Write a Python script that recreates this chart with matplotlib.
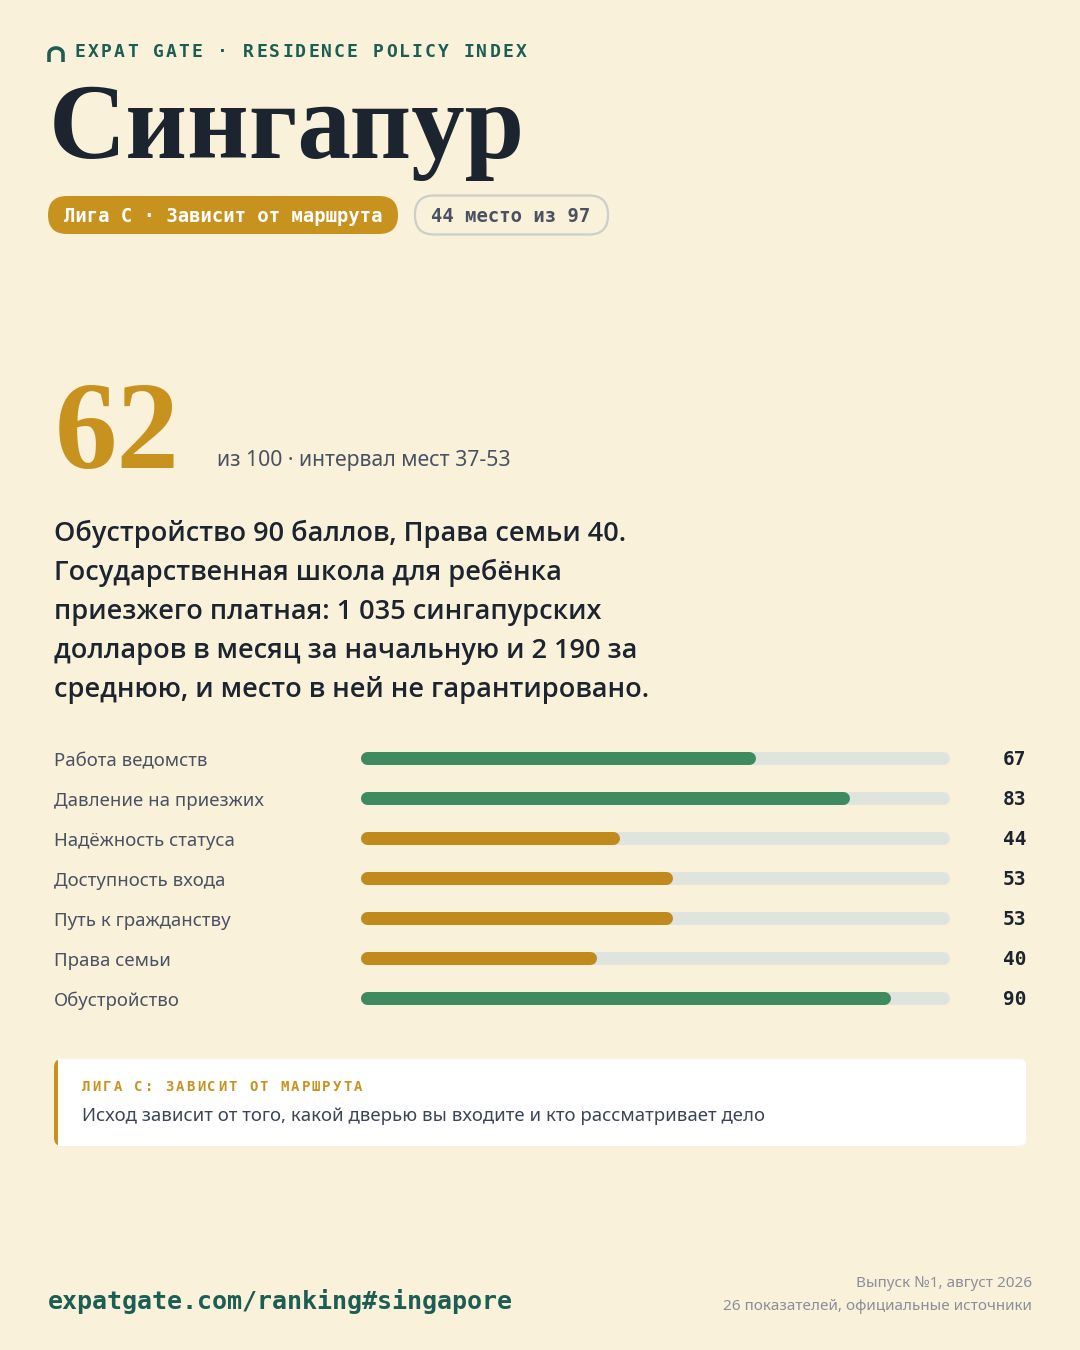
import matplotlib
matplotlib.use("Agg")
from matplotlib import pyplot as plt
from matplotlib.patches import FancyBboxPatch, Rectangle
import numpy as np

# --- data ---
country = "Сингапур"
brand = "EXPAT GATE · RESIDENCE POLICY INDEX"
league_text = "Лига C · Зависит от маршрута"
rank_text = "44 место из 97"
score = 62
score_note = "из 100 · интервал мест 37-53"
summary_lines = [
    "Обустройство 90 баллов, Права семьи 40.",
    "Государственная школа для ребёнка",
    "приезжего платная: 1 035 сингапурских",
    "долларов в месяц за начальную и 2 190 за",
    "среднюю, и место в ней не гарантировано.",
]
categories = ["Работа ведомств", "Давление на приезжих", "Надёжность статуса",
              "Доступность входа", "Путь к гражданству", "Права семьи", "Обустройство"]
values = [67, 83, 44, 53, 53, 40, 90]
callout_title = "ЛИГА C: ЗАВИСИТ ОТ МАРШРУТА"
callout_body = "Исход зависит от того, какой дверью вы входите и кто рассматривает дело"
footer_url = "expatgate.com/ranking#singapore"
footer_notes = ["Выпуск №1, август 2026", "26 показателей, официальные источники"]

BG = "#faf1db"
TEAL = "#1d5e54"
GOLD = "#c8921e"
BAR_GOLD = "#c08a1c"
GREEN = "#3d8b5f"
TRACK = "#dfe5de"
INK = "#1c2430"
SLATE = "#4a5262"

W, H = 1080, 1350
fig = plt.figure(figsize=(W / 100, H / 100), dpi=100, facecolor=BG)
ax = fig.add_axes([0, 0, 1, 1])
ax.set_xlim(0, W)
ax.set_ylim(H, 0)
ax.axis("off")

MONO = "DejaVu Sans Mono"
SANS = ["Noto Sans", "DejaVu Sans"]
SEMI = ["Open Sans", "Noto Sans", "DejaVu Sans"]
SERIF = "Liberation Serif"


def tracked(x, y, s, step, **kw):
    # mono text with letter spacing: one glyph per fixed step
    for i, ch in enumerate(s):
        if ch != " ":
            ax.text(x + i * step, y, ch, va="baseline", **kw)


# logo arch
t = np.linspace(0, np.pi, 40)
ax.plot(np.r_[49, 49 + 7 * (1 - np.cos(t)), 63], np.r_[62, 54 - 6 * np.sin(t), 62],
        color=TEAL, lw=2.6, solid_capstyle="butt")
tracked(75, 57, brand, 12.95, fontsize=13, family=MONO, weight="bold", color=TEAL)

# title
ax.text(49, 158, country, fontsize=77, family=SERIF, weight="bold",
        color=INK, va="baseline")

# pills
ax.add_patch(FancyBboxPatch((48, 196), 350, 38, boxstyle="round,pad=0,rounding_size=19",
                            fc=GOLD, ec="none"))
ax.text(223, 216, league_text, fontsize=13.6, family=MONO, weight="bold",
        color="white", ha="center", va="center")
ax.add_patch(FancyBboxPatch((415, 195.5), 193, 39, boxstyle="round,pad=0,rounding_size=19",
                            fc="none", ec="#c9cfca", lw=1.6))
ax.text(511, 216, rank_text, fontsize=13.6, family=MONO, weight="bold",
        color=SLATE, ha="center", va="center")

# score
ax.text(55, 468, str(score), fontsize=90, family=SERIF, weight="bold",
        color=GOLD, va="baseline")
ax.text(217, 466, score_note, fontsize=15.3, family=SANS, color=SLATE, va="baseline")

# summary
for i, line in enumerate(summary_lines):
    ax.text(54, 541 + 39 * i, line, fontsize=19.5, family=SEMI, weight="semibold",
            color=INK, va="baseline")

# bars
row_y = 758 + 40 * np.arange(len(values))
bx0, bx1 = 360, 950
bax = fig.add_axes([bx0 / W, 1 - 1020 / H, (bx1 - bx0) / W, (1020 - 740) / H])
bax.set_xlim(0, 100)
bax.set_ylim(1020, 740)
bax.axis("off")
bax.patch.set_alpha(0)
lw_pt = 13 * 72 / 100
r = 6.5 / (bx1 - bx0) * 100
for y, v, name in zip(row_y, values, categories):
    bax.plot([r, 100 - r], [y, y], color=TRACK, lw=lw_pt, solid_capstyle="round")
    bax.plot([r, v - r], [y, y], color=GREEN if v >= 60 else BAR_GOLD, lw=lw_pt,
             solid_capstyle="round")
    ax.text(54, y + 8, name, fontsize=13.4, family=SANS, color=SLATE, va="baseline")
    ax.text(1026, y + 7, str(v), fontsize=14, family=MONO, weight="bold",
            color=INK, ha="right", va="baseline")

# callout
ax.add_patch(FancyBboxPatch((54, 1059), 972, 87, boxstyle="round,pad=0,rounding_size=8",
                            fc=GOLD, ec="none"))
ax.add_patch(FancyBboxPatch((58, 1059), 968, 87, boxstyle="round,pad=0,rounding_size=6",
                            fc="white", ec="none"))
ax.add_patch(Rectangle((58, 1059), 10, 87, fc="white", ec="none"))
tracked(82, 1091, callout_title, 10.45, fontsize=10, family=MONO, weight="bold",
        color=GOLD)
ax.text(82, 1121, callout_body, fontsize=13.4, family=SANS, color="#3a4556",
        va="baseline")

# footer
ax.text(48, 1309, footer_url, fontsize=18, family=MONO, weight="bold",
        color=TEAL, va="baseline")
ax.text(1032, 1287, footer_notes[0], fontsize=11, family=SANS, color="#8a8f99",
        ha="right", va="baseline")
ax.text(1032, 1310, footer_notes[1], fontsize=11, family=SANS, color="#8a8f99",
        ha="right", va="baseline")

fig.savefig("out.png", dpi=100, facecolor=BG)
